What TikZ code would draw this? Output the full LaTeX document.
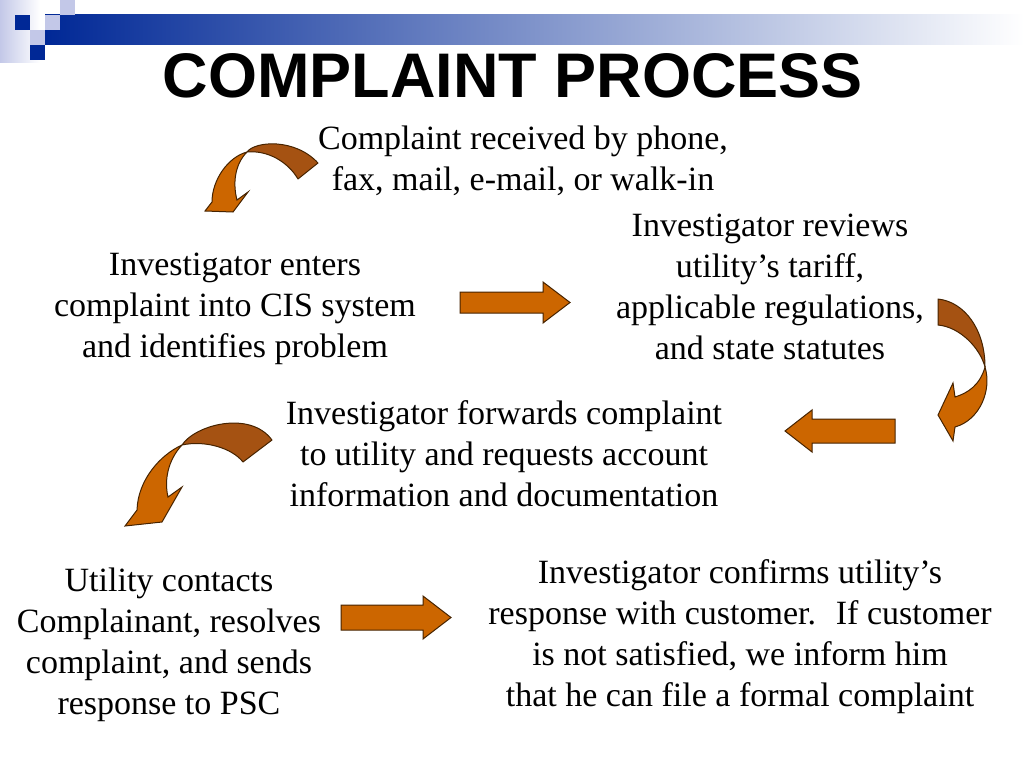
\documentclass[tikz,border=0pt]{standalone}
\usepackage{fontspec}
\setmainfont{Liberation Serif}
\newfontfamily\titlefont{Liberation Sans}
\usetikzlibrary{positioning}
\definecolor{arrowor}{RGB}{204,102,0}
\definecolor{arrowdk}{RGB}{165,82,18}
\definecolor{arrowln}{RGB}{70,35,0}
\definecolor{barblue}{RGB}{0,40,150}
\definecolor{barlite}{RGB}{195,200,232}

\begin{document}
\begin{tikzpicture}[x=1pt, y=-1pt,
  txt/.style={align=center, inner sep=0pt, font=\fontsize{34}{41}\selectfont},
  blk/.style={fill=arrowor, draw=arrowln, line width=1pt, line join=miter},
  twist/.style={fill=arrowdk, draw=arrowln, line width=1pt, line join=round}
]
\useasboundingbox (0,0) rectangle (1024,768);
% banner (top-left)
\shade[left color=barlite, right color=white] (0,0) rectangle (40,62);
\shade[left color=barblue, right color=white] (45,15) rectangle (1024,45);
\fill[barlite] (60,0) rectangle (75,15);
\fill[barlite] (45,15) rectangle (60,30);
\fill[barlite] (30,30) rectangle (45,45);
\fill[barblue] (15,15) rectangle (30,30);
\fill[barblue] (30,45) rectangle (45,60);
\node[inner sep=0pt, font=\titlefont\bfseries\fontsize{63}{70}\selectfont] (title) at (513,76) {COMPLAINT PROCESS};
% steps
\node[txt] (recv) at (523,161) {Complaint received by phone,\\fax, mail, e-mail, or walk-in};
\node[txt] (enter) at (235,309) {Investigator enters\\complaint into CIS system\\and identifies problem};
\node[txt] (review) at (770,287) {Investigator reviews\\utility’s tariff,\\applicable regulations,\\and state statutes};
\node[txt] (forward) at (504,454) {Investigator forwards complaint\\to utility and requests account\\information and documentation};
\node[txt] (contact) at (169,645) {Utility contacts\\Complainant, resolves\\complaint, and sends\\response to PSC};
\node[txt] (confirm) at (740,637) {Investigator confirms utility’s\\response with customer.~ If customer\\is not satisfied, we inform him\\that he can file a formal complaint};
% straight block arrows
\draw[blk] (460,292) -- (543,292) -- (543,282) -- (570,302.5) -- (543,323) -- (543,313) -- (460,313) -- cycle;
\draw[blk] (341,605) -- (423,605) -- (423,596) -- (451,617.5) -- (423,639) -- (423,630) -- (341,630) -- cycle;
\draw[blk] (895,419) -- (812,419) -- (812,410) -- (785,431) -- (812,452) -- (812,443) -- (895,443) -- cycle;
% curved arrow below the first step
\draw[twist] (247,152) .. controls (255,141) and (295,138) .. (318,163) -- (298,179) .. controls (288,162) and (268,150) .. (247,152) -- cycle;
\draw[blk] (247,152) .. controls (228,157) and (212,180) .. (212,202) -- (205,211) -- (233,212) -- (248,192) -- (237,200) .. controls (233,185) and (234,165) .. (247,152) -- cycle;
% curved arrow on the right
\draw[twist] (938,299) .. controls (965,302) and (985,330) .. (985,367) .. controls (980,348) and (960,327) .. (938,325) -- cycle;
\draw[blk] (985,367) .. controls (992,390) and (980,420) .. (955,427) -- (953,441) -- (938,415) -- (953,383) -- (955,397) .. controls (968,393) and (980,385) .. (985,367) -- cycle;
% curved arrow on the left
\draw[twist] (182,445) .. controls (195,425) and (250,410) .. (272,440) -- (243,462) .. controls (232,448) and (205,440) .. (182,445) -- cycle;
\draw[blk] (182,445) .. controls (160,455) and (138,480) .. (137,510) -- (125,526) -- (162,522) -- (182,487) -- (168,497) .. controls (164,480) and (168,460) .. (182,445) -- cycle;
\end{tikzpicture}
\end{document}
